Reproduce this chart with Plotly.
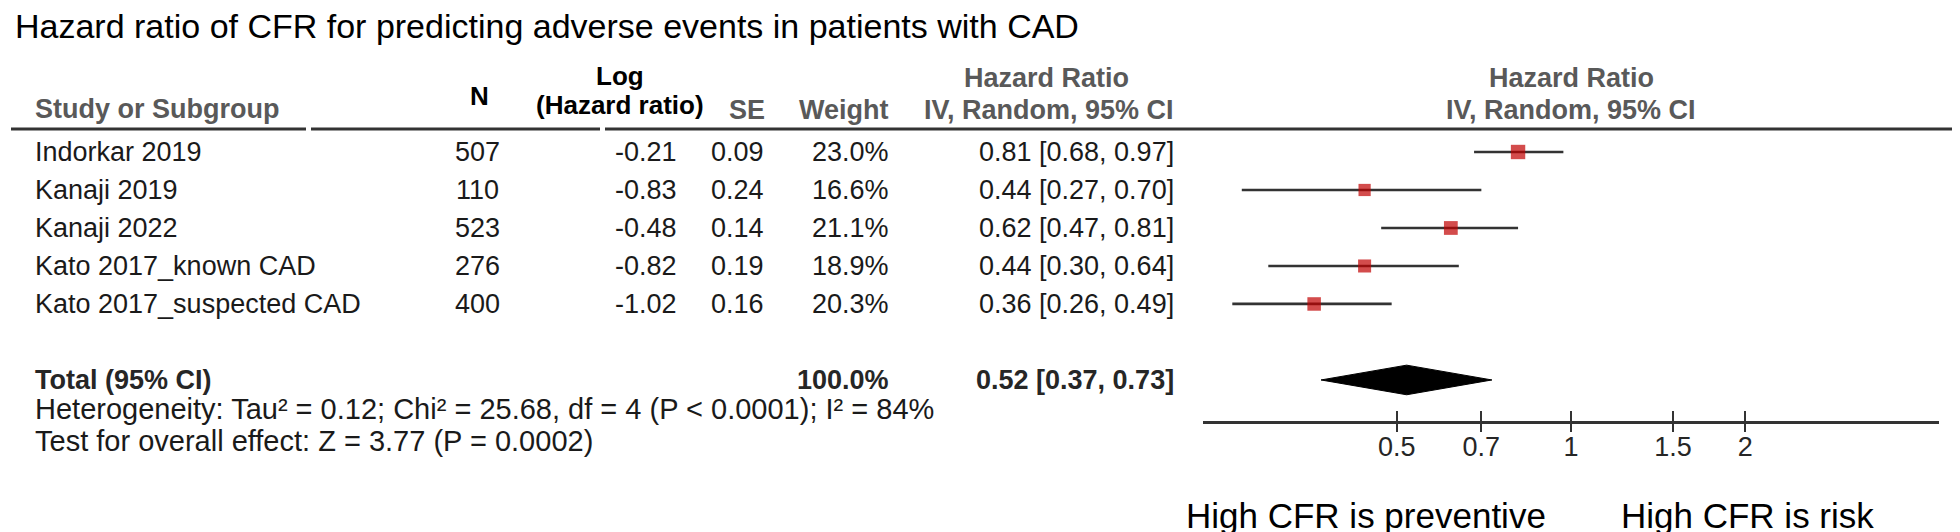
import numpy as np
import plotly.graph_objects as go

# table data
studies = ["Indorkar 2019", "Kanaji 2019", "Kanaji 2022", "Kato 2017_known CAD", "Kato 2017_suspected CAD"]
n_patients = [507, 110, 523, 276, 400]
log_hr = [-0.21, -0.83, -0.48, -0.82, -1.02]
se = [0.09, 0.24, 0.14, 0.19, 0.16]
weight = [23.0, 16.6, 21.1, 18.9, 20.3]
hr = [0.81, 0.44, 0.62, 0.44, 0.36]
ci_low = [0.68, 0.27, 0.47, 0.30, 0.26]
ci_high = [0.97, 0.70, 0.81, 0.64, 0.49]

total_hr = 0.52
total_low = 0.37
total_high = 0.73
total_weight = 100.0

tick_vals = [0.5, 0.7, 1, 1.5, 2]
tick_text = ["0.5", "0.7", "1", "1.5", "2"]

title = "Hazard ratio of CFR for predicting adverse events in patients with CAD"
heterogeneity = "Heterogeneity: Tau² = 0.12; Chi² = 25.68, df = 4 (P &lt; 0.0001); I² = 84%"
overall = "Test for overall effect: Z = 3.77 (P = 0.0002)"
left_label = "High CFR is preventive"
right_label = "High CFR is risk"

W, H = 1960, 532
FONT = "Liberation Sans, Arial, sans-serif"
GRAY = "#595959"
DARK = "#333333"


def px(x):
    return x / W


def py(y):
    return 1 - y / H


rows = list(range(len(studies)))
TOTAL_ROW = 6

fig = go.Figure()

# confidence interval whiskers
ci_x, ci_y = [], []
for i, lo, hi in zip(rows, ci_low, ci_high):
    ci_x += [lo, hi, None]
    ci_y += [i, i, None]
fig.add_trace(go.Scatter(x=ci_x, y=ci_y, mode="lines",
                         line=dict(color=DARK, width=2.7), hoverinfo="skip"))

# study estimates, square size by weight
fig.add_trace(go.Scatter(
    x=hr, y=rows, mode="markers",
    marker=dict(symbol="square", size=[3 * np.sqrt(w) for w in weight],
                color="#C00000", line=dict(width=0)),
))

# pooled diamond
half = 0.39
fig.add_trace(go.Scatter(
    x=[total_low, total_hr, total_high, total_hr, total_low],
    y=[TOTAL_ROW, TOTAL_ROW - half, TOTAL_ROW, TOTAL_ROW + half, TOTAL_ROW],
    mode="lines", fill="toself", fillcolor="black",
    line=dict(color="black", width=1), hoverinfo="skip",
))

# dummy trace so the overlay axis (upward ticks) is drawn
fig.add_trace(go.Scatter(x=[1], y=[0], xaxis="x2", mode="markers",
                         marker=dict(opacity=0), hoverinfo="skip"))

x_range = [np.log10(0.2314), np.log10(4.32)]
axis_common = dict(
    type="log", range=x_range, domain=[px(1195), px(1931)],
    tickvals=tick_vals, ticktext=tick_text, tickwidth=2,
    tickcolor=DARK, showgrid=False, zeroline=False,
)
fig.update_layout(
    width=W, height=H,
    margin=dict(l=0, r=0, t=0, b=0),
    paper_bgcolor="white", plot_bgcolor="white",
    showlegend=False,
    font=dict(family=FONT, color="#1a1a1a"),
    xaxis=dict(**axis_common, anchor="y", showline=True, linecolor=DARK,
               linewidth=3, ticks="outside", ticklen=8, ticklabelstandoff=-8,
               tickfont=dict(size=27, color="#262626", family=FONT)),
    xaxis2=dict(**axis_common, anchor="y", overlaying="x", side="bottom",
                ticks="inside", ticklen=10, showticklabels=False, showline=False),
    # rows: 38 px apart, first row at 144 px, axis line at 413 px
    yaxis=dict(domain=[py(413), py(121)], range=[7.08, -0.605], visible=False),
)

shapes = []
# line of no effect at HR = 1
shapes.append(dict(type="line", xref="x", yref="y domain", x0=np.log10(1), x1=np.log10(1),
                   y0=0, y1=1, line=dict(color=DARK, width=2)))
# header rule, broken between the first columns
for x0, x1 in [(3, 298), (303, 592), (597, 1955)]:
    shapes.append(dict(type="line", xref="paper", yref="paper", x0=px(x0), x1=px(x1),
                       y0=py(121), y1=py(121), line=dict(color=DARK, width=3)))
fig.update_layout(shapes=shapes)

ann = []


def text(x, y, s, anchor="left", size=27, color="#1a1a1a", bold=False, yref="paper"):
    if bold:
        s = "<b>" + s + "</b>"
    ann.append(dict(
        x=px(x), y=py(y) if yref == "paper" else y, xref="paper", yref=yref,
        text=s, showarrow=False, xanchor=anchor, yanchor="middle",
        font=dict(size=size, color=color, family=FONT),
    ))


text(5, 18, title, size=34, color="black")

# column headers
text(612, 68, "Log", "center", 26, "black", True)
text(612, 97, "(Hazard ratio)", "center", 26, "black", True)
text(471, 88, "N", "center", 26, "black", True)
text(25, 101, "Study or Subgroup", "left", 27, GRAY, True)
text(759, 102, "SE", "right", 27, GRAY, True)
text(883, 102, "Weight", "right", 27, GRAY, True)
text(1038, 70, "Hazard Ratio", "center", 27, GRAY, True)
text(1168, 102, "IV, Random, 95% CI", "right", 27, GRAY, True)
text(1563, 70, "Hazard Ratio", "center", 27, GRAY, True)
text(1563, 102, "IV, Random, 95% CI", "center", 27, GRAY, True)

# study rows
for i, name in enumerate(studies):
    text(25, i, name, "left", yref="y")
    text(469, i, str(n_patients[i]), "center", yref="y")
    text(671, i, f"{log_hr[i]:.2f}", "right", yref="y")
    text(758, i, f"{se[i]:.2f}", "right", yref="y")
    text(883, i, f"{weight[i]:.1f}%", "right", yref="y")
    text(1168, i, f"{hr[i]:.2f} [{ci_low[i]:.2f}, {ci_high[i]:.2f}]", "right", yref="y")

# total row
text(25, TOTAL_ROW, "Total (95% CI)", "left", 27, "#262626", True, yref="y")
text(883, TOTAL_ROW, f"{total_weight:.1f}%", "right", 27, "#262626", True, yref="y")
text(1168, TOTAL_ROW, f"{total_hr:.2f} [{total_low:.2f}, {total_high:.2f}]", "right", 27,
     "#262626", True, yref="y")

text(25, 401, heterogeneity, "left", 29)
text(25, 433, overall, "left", 29)

text(1358, 507, left_label, "center", 35, "black")
text(1739, 507, right_label, "center", 35, "black")

fig.update_layout(annotations=ann)

fig.write_html("out.html")
